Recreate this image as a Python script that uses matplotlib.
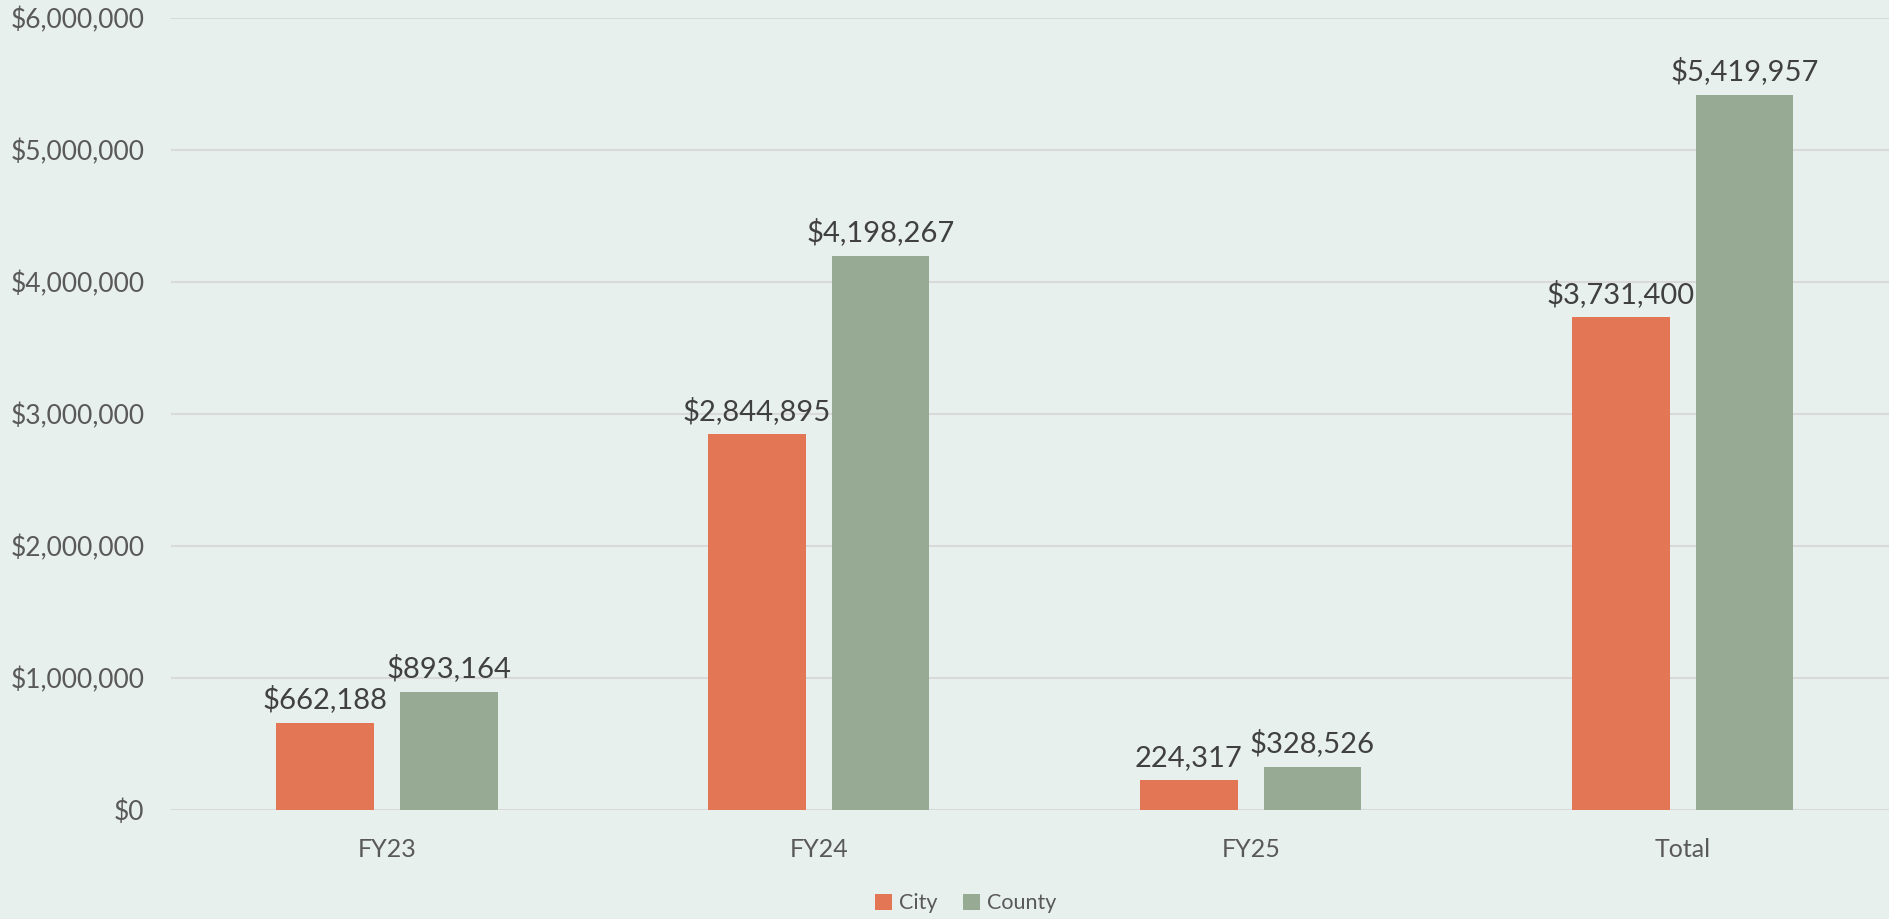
import matplotlib.pyplot as plt
import numpy as np

# datos
categorias = ['FY23', 'FY24', 'FY25', 'Total']
city = [662188, 2844895, 224317, 3731400]
county = [893164, 4198267, 328526, 5419957]
etiquetas_city = ['$662,188', '$2,844,895', '224,317', '$3,731,400']
etiquetas_county = ['$893,164', '$4,198,267', '$328,526', '$5,419,957']
ticks_y = [0, 1000000, 2000000, 3000000, 4000000, 5000000, 6000000]

plt.rcParams['font.family'] = ['Lato', 'DejaVu Sans']

fondo = '#E7F0EC'
fig = plt.figure(figsize=(18.9, 9.19), dpi=100, facecolor=fondo)
ax = fig.add_axes([0.0905, 0.1186, 0.914, 0.8618], facecolor=fondo)

x = np.arange(len(categorias))
ancho = 0.226
desp = 0.143
b1 = ax.bar(x - desp, city, ancho, color='#E37755', label='City', zorder=3)
b2 = ax.bar(x + desp, county, ancho, color='#97AA93', label='County', zorder=3)

for barra, txt in zip(b1, etiquetas_city):
    ax.annotate(txt, (barra.get_x() + barra.get_width() / 2, barra.get_height()),
                xytext=(0, 7), textcoords='offset points', ha='center', va='bottom',
                fontsize=21, color='#404040')
for barra, txt in zip(b2, etiquetas_county):
    ax.annotate(txt, (barra.get_x() + barra.get_width() / 2, barra.get_height()),
                xytext=(0, 7), textcoords='offset points', ha='center', va='bottom',
                fontsize=21, color='#404040')

# ejes
ax.set_xlim(-0.5, 3.5)
ax.set_ylim(0, 6000000)
ax.set_yticks(ticks_y)
ax.set_yticklabels(['${:,.0f}'.format(v) for v in ticks_y])
ax.set_xticks(x)
ax.set_xticklabels(categorias)
ax.tick_params(axis='y', length=0, pad=19, labelsize=19, labelcolor='#595959')
ax.tick_params(axis='x', length=0, pad=20, labelsize=18, labelcolor='#595959')
ax.yaxis.grid(True, color='#D9D9D9', linewidth=1.5, zorder=0)
for s in ax.spines.values():
    s.set_visible(False)

ax.legend(loc='lower center', bbox_to_anchor=(0.46, -0.155), ncol=2, frameon=False,
          fontsize=15.5, labelcolor='#595959', handlelength=0.8, handleheight=0.8,
          handletextpad=0.3, columnspacing=1.2)

plt.savefig('out.png', dpi=100, facecolor=fondo)
